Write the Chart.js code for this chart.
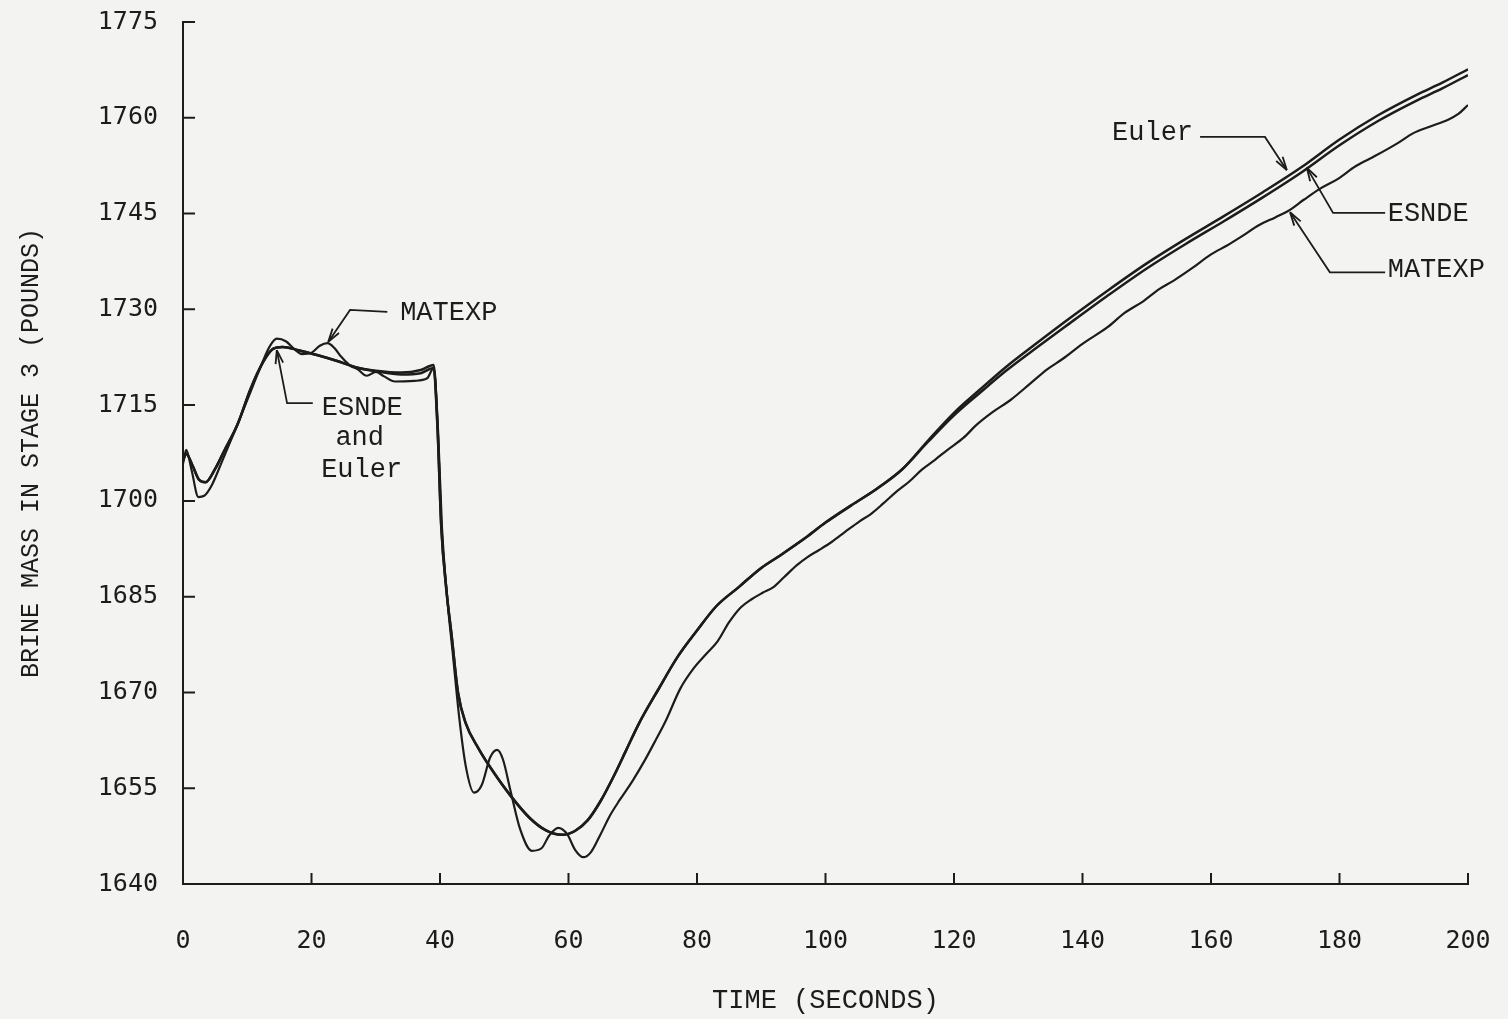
<!DOCTYPE html>
<html>
<head>
<meta charset="utf-8">
<title>Brine mass in stage 3</title>
<script src="https://cdn.jsdelivr.net/npm/chart.js@4.4.1/dist/chart.umd.min.js"></script>
<style>
  html, body { margin: 0; padding: 0; background: #f3f3f1; }
  canvas { display: block; }
</style>
</head>
<body>
<canvas id="chart" width="1508" height="1019"></canvas>
<script>
/* Brine mass in stage 3 – Euler / ESNDE / MATEXP */
const INK = "#1c1c1c";

// time axis ticks
const xTicks = [0, 20, 40, 60, 80, 100, 120, 140, 160, 180, 200];
const yTicks = [1640, 1655, 1670, 1685, 1700, 1715, 1730, 1745, 1760, 1775];

// Euler (smooth)
const eulerT = [0, 0.5, 1.5, 2.5, 3.5, 5, 6.5, 8.5, 10.5, 12.5, 14, 15.5, 18, 21, 24, 27, 30, 34, 37, 39,
  39.6, 40.2, 41, 41.8, 42.8, 44, 46, 48, 51, 54, 56.5, 59, 61, 63, 65, 67, 69, 71, 74, 77, 80, 83, 86.5, 90,
  93, 97, 100, 104, 108, 112, 116, 120, 124, 128, 133, 138, 144, 150, 156, 162, 168, 174, 180, 186, 192, 196, 200];
const eulerV = [1706.3, 1707.4, 1705.5, 1703.3, 1702.9, 1705.0, 1708.0, 1712.0, 1717.5, 1721.8, 1723.8, 1724.1, 1723.6, 1722.8, 1721.9, 1720.9, 1720.4, 1720.1, 1720.5, 1721.3,
  1712, 1696, 1686, 1679, 1670, 1665.2, 1661.2, 1658, 1653.8, 1650.3, 1648.4, 1647.7, 1648.3, 1650, 1653, 1656.8, 1661, 1665.2, 1670.5, 1675.6, 1679.7, 1683.5, 1686.5, 1689.5,
  1691.5, 1694.3, 1696.6, 1699.3, 1701.9, 1705, 1709.5, 1713.8, 1717.4, 1720.9, 1724.8, 1728.6, 1733, 1737.2, 1741, 1744.6, 1748.3, 1752.2, 1756.6, 1760.4, 1763.6, 1765.5, 1767.6];

// ESNDE (smooth, follows Euler, slightly lower at the end)
const esndeT = eulerT;
const esndeV = [1706.3, 1707.4, 1705.5, 1703.3, 1702.9, 1705.0, 1708.0, 1712.0, 1717.5, 1721.8, 1723.8, 1724.1, 1723.6, 1722.8, 1721.9, 1720.9, 1720.3, 1719.8, 1720.0, 1720.8,
  1711.6, 1695.8, 1686, 1679, 1670, 1665.2, 1661.2, 1658, 1653.8, 1650.3, 1648.4, 1647.7, 1648.3, 1650, 1653, 1656.8, 1661, 1665.2, 1670.5, 1675.6, 1679.7, 1683.5, 1686.5, 1689.5,
  1691.5, 1694.3, 1696.6, 1699.3, 1701.9, 1705, 1709.3, 1713.4, 1716.9, 1720.3, 1724.1, 1727.8, 1732.2, 1736.4, 1740.2, 1743.8, 1747.5, 1751.4, 1755.7, 1759.5, 1762.7, 1764.6, 1766.7];

// MATEXP (oscillating, lags on the rise)
const matexpT = [0, 0.5, 1.3, 2.4, 3.3, 4.5, 6, 8, 10, 12, 13.5, 14.6, 16, 17.3, 18.5, 20, 21.3, 22.5, 23.6, 24.6, 26, 27.2, 28.6, 30, 31.3, 33, 36, 38, 39,
  39.7, 40.3, 41.2, 42, 43, 44, 45.3, 46.5, 47.8, 48.9, 49.8, 51, 52.5, 54.3, 55.8, 57, 58.4, 59.8, 61, 62.3, 63.5, 65, 66.5, 68, 70, 72, 73.5,
  75.2, 77.4, 79.5, 81.5, 83.2, 85, 86.8, 88.5, 90.2, 91.9, 93.5, 95.5, 97.2, 99, 101, 103, 105.3, 107, 109, 111, 113, 115, 117, 119,
  121.5, 123.5, 126, 128.8, 131.9, 134.5, 137, 140, 143.9, 146.5, 149.5, 152, 154.2, 157, 160, 162.5, 164.6, 167.5, 170, 172, 174.5, 177,
  179.7, 182.5, 185.5, 189, 191.5, 194, 196.9, 198.5, 200];
const matexpV = [1705.8, 1708.0, 1705.0, 1700.6, 1700.8, 1702.5, 1706.0, 1710.8, 1715.8, 1720.8, 1724.2, 1725.4, 1725.0, 1723.8, 1723.0, 1723.2, 1724.3, 1724.7, 1723.9, 1722.6, 1721.2, 1720.6, 1719.6, 1720.2, 1719.5, 1718.7, 1718.8, 1719.2, 1720.8,
  1711, 1696, 1684, 1676, 1666, 1658.5, 1654.3, 1655.5, 1659.8, 1661.0, 1659.5, 1654.5, 1648.5, 1645.2, 1645.6, 1647.6, 1648.8, 1647.8, 1645.4, 1644.2, 1645.0, 1647.8, 1650.8, 1653.2, 1656.2, 1659.6, 1662.4,
  1665.7, 1670.6, 1673.8, 1676.1, 1678.0, 1681.0, 1683.3, 1684.6, 1685.6, 1686.5, 1688.0, 1689.9, 1691.2, 1692.3, 1693.6, 1695.1, 1696.8, 1697.9, 1699.6, 1701.4, 1703.0, 1704.9, 1706.4, 1708.0,
  1709.9, 1711.9, 1713.9, 1715.8, 1718.4, 1720.6, 1722.3, 1724.6, 1727.2, 1729.4, 1731.3, 1733.2, 1734.5, 1736.4, 1738.6, 1740.0, 1741.3, 1743.2, 1744.4, 1745.4, 1747.2, 1748.9,
  1750.4, 1752.4, 1754.0, 1756.0, 1757.6, 1758.6, 1759.7, 1760.6, 1762.0];

// labels drawn on the plot, anchored in data units
const notes = [
  { text: "MATEXP", t: 33.8, v: 1729.4, leader: [[31.8, 1729.6], [26.0, 1729.9], [22.6, 1724.9]] },
  { text: "ESNDE", t: 21.6, v: 1714.5, leader: [[20.2, 1715.3], [16.2, 1715.3], [14.6, 1723.6]] },
  { text: "and", t: 27.5, v: 1709.9, center: true },
  { text: "Euler", t: 21.5, v: 1704.8 },
  { text: "Euler", t: 144.6, v: 1757.6, leader: [[158.3, 1757.0], [168.4, 1757.0], [171.8, 1751.8]] },
  { text: "ESNDE", t: 187.5, v: 1744.9, leader: [[187.1, 1745.1], [179.0, 1745.1], [174.9, 1752.2]] },
  { text: "MATEXP", t: 187.5, v: 1736.2, leader: [[187.1, 1735.8], [178.5, 1735.8], [172.3, 1745.2]] }
];

const zip = (ts, vs) => ts.map((t, i) => ({ x: t, y: vs[i] }));
const lineSet = (label, ts, vs, w) => ({
  label, data: zip(ts, vs), borderColor: INK, borderWidth: w, pointRadius: 0,
  fill: false, cubicInterpolationMode: "monotone"
});

const tickFont = { family: "'DejaVu Sans Mono', monospace", size: 25 };
const noteFont = "27px 'Liberation Mono', monospace";

const decorations = {
  id: "decorations",
  afterDraw(chart) {
    const { ctx, scales: { x, y } } = chart;
    ctx.save();
    ctx.strokeStyle = INK;
    ctx.lineWidth = 2;
    // tick marks drawn inward
    ctx.beginPath();
    y.ticks.forEach((tk, i) => {
      const py = y.getPixelForTick(i);
      ctx.moveTo(x.left, py); ctx.lineTo(x.left + 12, py);
    });
    x.ticks.forEach((tk, i) => {
      if (tk.value === 0) return;
      const px = x.getPixelForTick(i);
      ctx.moveTo(px, y.bottom); ctx.lineTo(px, y.bottom - 11);
    });
    ctx.stroke();

    // labels with leader arrows
    ctx.fillStyle = INK;
    ctx.font = noteFont;
    ctx.textBaseline = "middle";
    ctx.lineWidth = 1.8;
    notes.forEach(n => {
      ctx.textAlign = n.center ? "center" : "left";
      ctx.fillText(n.text, x.getPixelForValue(n.t), y.getPixelForValue(n.v));
      if (!n.leader) return;
      const pts = n.leader.map(p => [x.getPixelForValue(p[0]), y.getPixelForValue(p[1])]);
      ctx.beginPath();
      pts.forEach((p, i) => i ? ctx.lineTo(p[0], p[1]) : ctx.moveTo(p[0], p[1]));
      ctx.stroke();
      const [tx, ty] = pts[pts.length - 1];
      const [sx, sy] = pts[pts.length - 2];
      const a = Math.atan2(ty - sy, tx - sx);
      ctx.beginPath();
      [-0.28, 0.28].forEach(d => {
        ctx.moveTo(tx, ty);
        ctx.lineTo(tx - 14 * Math.cos(a + d), ty - 14 * Math.sin(a + d));
      });
      ctx.stroke();
    });
    ctx.restore();
  }
};

new Chart(document.getElementById("chart"), {
  type: "line",
  data: {
    datasets: [
      lineSet("Euler", eulerT, eulerV, 2.5),
      lineSet("ESNDE", esndeT, esndeV, 2.5),
      lineSet("MATEXP", matexpT, matexpV, 2.2)
    ]
  },
  options: {
    responsive: false,
    animation: false,
    layout: { padding: { top: 22, right: 40, left: 0, bottom: 0 } },
    plugins: { legend: { display: false }, tooltip: { enabled: false } },
    scales: {
      x: {
        type: "linear", min: xTicks[0], max: xTicks[xTicks.length - 1],
        afterBuildTicks: s => { s.ticks = xTicks.map(v => ({ value: v })); },
        afterFit: s => { s.height = 135; s.paddingLeft = 0; s.paddingRight = 0; },
        ticks: { font: tickFont, color: INK, padding: 42, maxRotation: 0, autoSkip: false,
          callback: v => String(v) },
        grid: { display: false, drawTicks: false },
        border: { color: INK, width: 2 },
        title: { display: true, text: "TIME (SECONDS)", color: INK,
          font: { family: "'Liberation Mono', monospace", size: 27 }, padding: { top: 0, bottom: 2 } }
      },
      y: {
        type: "linear", min: yTicks[0], max: yTicks[yTicks.length - 1],
        afterBuildTicks: s => { s.ticks = yTicks.map(v => ({ value: v })); },
        afterFit: s => { s.width = 183; s.paddingTop = 0; s.paddingBottom = 0; },
        ticks: { font: tickFont, color: INK, padding: 25, autoSkip: false,
          callback: v => String(v) },
        grid: { display: false, drawTicks: false },
        border: { color: INK, width: 2 },
        title: { display: true, text: "BRINE MASS IN STAGE 3 (POUNDS)", color: INK,
          font: { family: "'Liberation Mono', monospace", size: 25 }, padding: { top: 16, bottom: 0 } }
      }
    }
  },
  plugins: [decorations]
});
</script>
</body>
</html>
